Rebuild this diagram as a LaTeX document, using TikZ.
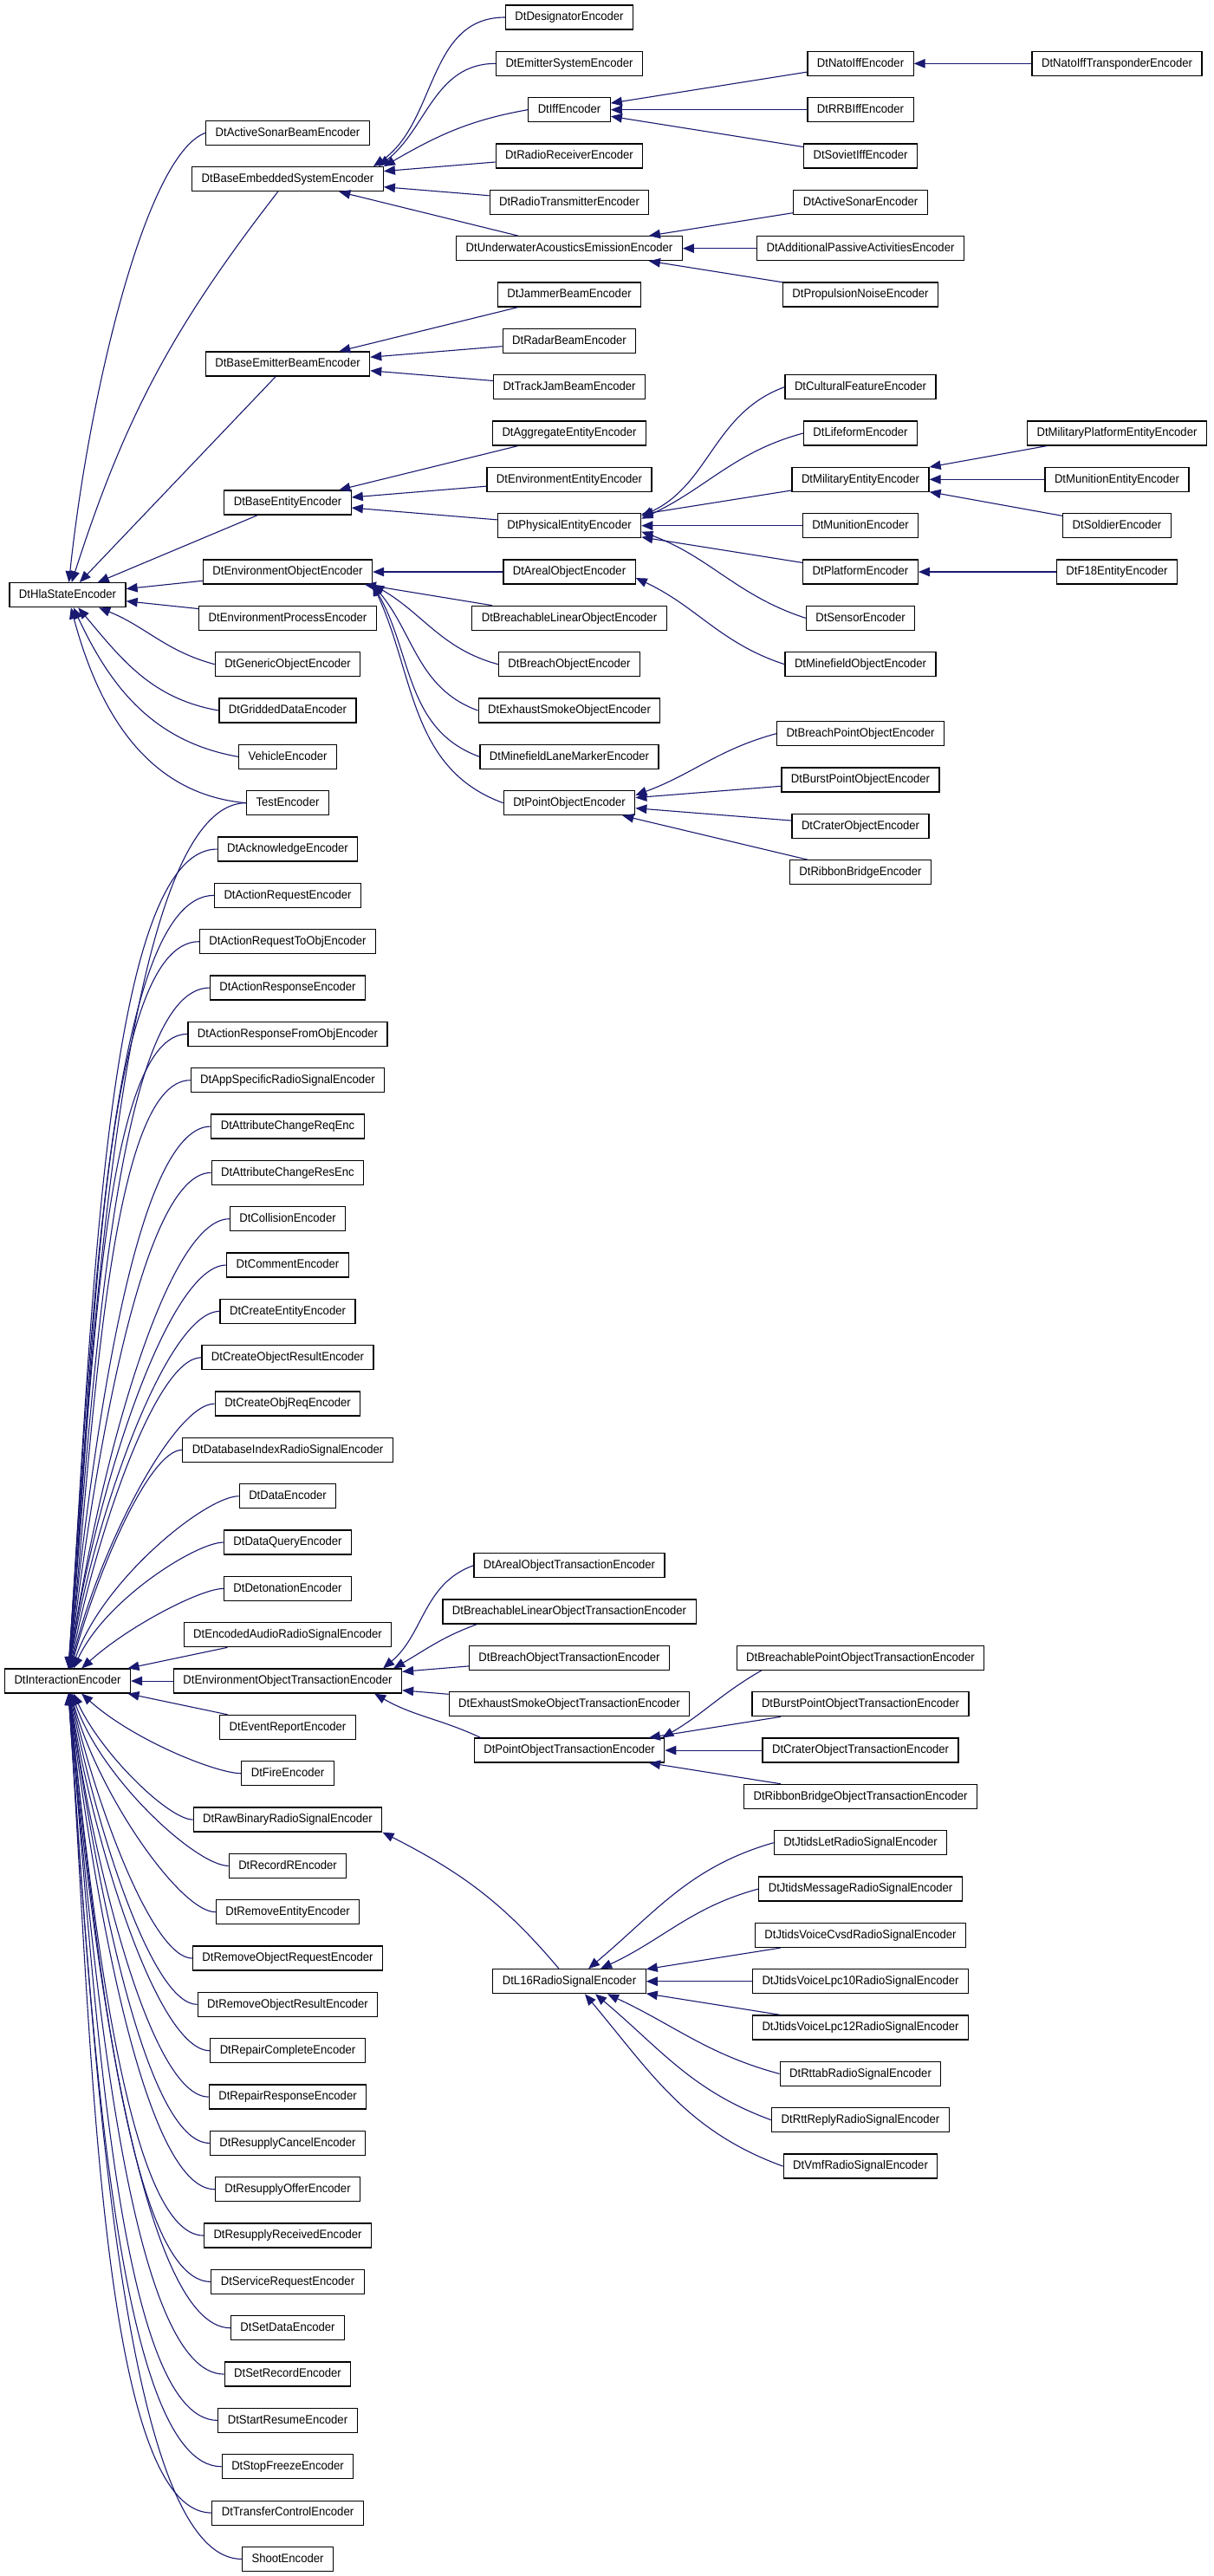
\documentclass[tikz,border=0pt]{standalone}
\usepackage{fontspec}
\setmainfont{Liberation Sans}[FakeStretch=0.935]
\usetikzlibrary{arrows.meta}
\definecolor{edgeblue}{RGB}{25,25,112}

\begin{document}
\begin{tikzpicture}[x=1pt, y=-26.6667pt,
  cls/.style={draw=black, line width=1.2pt, fill=white, minimum height=28pt,
    inner xsep=11pt, inner ysep=0pt, text height=10.5pt, text depth=3pt,
    font=\fontsize{14}{16}\selectfont},
  inh/.style={draw=edgeblue, line width=1.1pt, -{Triangle[length=13pt,width=10.5pt]}}]

\fill[white] (0,-0.75) rectangle (1400,110.735);
\useasboundingbox (0,-0.75) rectangle (1400,110.735);

% base classes
\node[cls] (hla) at (78,25) {DtHlaStateEncoder};
\node[cls] (ie) at (78,72) {DtInteractionEncoder};

% second column (state side)
\node[cls] (asb) at (332,5) {DtActiveSonarBeamEncoder};
\node[cls] (bes) at (332,7) {DtBaseEmbeddedSystemEncoder};
\node[cls] (beb) at (332,15) {DtBaseEmitterBeamEncoder};
\node[cls] (ben) at (332,21) {DtBaseEntityEncoder};
\node[cls] (eo) at (332,24) {DtEnvironmentObjectEncoder};
\node[cls] (ep) at (332,26) {DtEnvironmentProcessEncoder};
\node[cls] (gen) at (332,28) {DtGenericObjectEncoder};
\node[cls] (grid) at (332,30) {DtGriddedDataEncoder};
\node[cls] (veh) at (332,32) {VehicleEncoder};
\node[cls] (test) at (332,34) {TestEncoder};

% second column (interaction side)
\node[cls] (ack) at (332,36) {DtAcknowledgeEncoder};
\node[cls] (areq) at (332,38) {DtActionRequestEncoder};
\node[cls] (areqo) at (332,40) {DtActionRequestToObjEncoder};
\node[cls] (ares) at (332,42) {DtActionResponseEncoder};
\node[cls] (areso) at (332,44) {DtActionResponseFromObjEncoder};
\node[cls] (appsig) at (332,46) {DtAppSpecificRadioSignalEncoder};
\node[cls] (acreq) at (332,48) {DtAttributeChangeReqEnc};
\node[cls] (acres) at (332,50) {DtAttributeChangeResEnc};
\node[cls] (coll) at (332,52) {DtCollisionEncoder};
\node[cls] (comm) at (332,54) {DtCommentEncoder};
\node[cls] (cent) at (332,56) {DtCreateEntityEncoder};
\node[cls] (cores) at (332,58) {DtCreateObjectResultEncoder};
\node[cls] (coreq) at (332,60) {DtCreateObjReqEncoder};
\node[cls] (dbsig) at (332,62) {DtDatabaseIndexRadioSignalEncoder};
\node[cls] (data) at (332,64) {DtDataEncoder};
\node[cls] (dquery) at (332,66) {DtDataQueryEncoder};
\node[cls] (deto) at (332,68) {DtDetonationEncoder};
\node[cls] (audio) at (332,70) {DtEncodedAudioRadioSignalEncoder};
\node[cls] (eot) at (332,72) {DtEnvironmentObjectTransactionEncoder};
\node[cls] (event) at (332,74) {DtEventReportEncoder};
\node[cls] (fire) at (332,76) {DtFireEncoder};
\node[cls] (rawbin) at (332,78) {DtRawBinaryRadioSignalEncoder};
\node[cls] (recr) at (332,80) {DtRecordREncoder};
\node[cls] (rment) at (332,82) {DtRemoveEntityEncoder};
\node[cls] (rmreq) at (332,84) {DtRemoveObjectRequestEncoder};
\node[cls] (rmres) at (332,86) {DtRemoveObjectResultEncoder};
\node[cls] (repc) at (332,88) {DtRepairCompleteEncoder};
\node[cls] (repr) at (332,90) {DtRepairResponseEncoder};
\node[cls] (rscan) at (332,92) {DtResupplyCancelEncoder};
\node[cls] (rsoff) at (332,94) {DtResupplyOfferEncoder};
\node[cls] (rsrec) at (332,96) {DtResupplyReceivedEncoder};
\node[cls] (serv) at (332,98) {DtServiceRequestEncoder};
\node[cls] (setd) at (332,100) {DtSetDataEncoder};
\node[cls] (setr) at (332,102) {DtSetRecordEncoder};
\node[cls] (start) at (332,104) {DtStartResumeEncoder};
\node[cls] (stop) at (332,106) {DtStopFreezeEncoder};
\node[cls] (xfer) at (332,108) {DtTransferControlEncoder};
\node[cls] (shoot) at (332,110) {ShootEncoder};

% third column
\node[cls] (des) at (657,0) {DtDesignatorEncoder};
\node[cls] (emsys) at (657,2) {DtEmitterSystemEncoder};
\node[cls] (iff) at (657,4) {DtIffEncoder};
\node[cls] (rrecv) at (657,6) {DtRadioReceiverEncoder};
\node[cls] (rxmit) at (657,8) {DtRadioTransmitterEncoder};
\node[cls] (uae) at (657,10) {DtUnderwaterAcousticsEmissionEncoder};
\node[cls] (jam) at (657,12) {DtJammerBeamEncoder};
\node[cls] (radar) at (657,14) {DtRadarBeamEncoder};
\node[cls] (tjam) at (657,16) {DtTrackJamBeamEncoder};
\node[cls] (agg) at (657,18) {DtAggregateEntityEncoder};
\node[cls] (envent) at (657,20) {DtEnvironmentEntityEncoder};
\node[cls] (phys) at (657,22) {DtPhysicalEntityEncoder};
\node[cls] (areal) at (657,24) {DtArealObjectEncoder};
\node[cls] (brlin) at (657,26) {DtBreachableLinearObjectEncoder};
\node[cls] (breach) at (657,28) {DtBreachObjectEncoder};
\node[cls] (smoke) at (657,30) {DtExhaustSmokeObjectEncoder};
\node[cls] (lane) at (657,32) {DtMinefieldLaneMarkerEncoder};
\node[cls] (point) at (657,34) {DtPointObjectEncoder};
\node[cls] (arealt) at (657,67) {DtArealObjectTransactionEncoder};
\node[cls] (brlint) at (657,69) {DtBreachableLinearObjectTransactionEncoder};
\node[cls] (breacht) at (657,71) {DtBreachObjectTransactionEncoder};
\node[cls] (smoket) at (657,73) {DtExhaustSmokeObjectTransactionEncoder};
\node[cls] (pointt) at (657,75) {DtPointObjectTransactionEncoder};
\node[cls] (l16) at (657,85) {DtL16RadioSignalEncoder};

% fourth column
\node[cls] (nato) at (993,2) {DtNatoIffEncoder};
\node[cls] (rrb) at (993,4) {DtRRBIffEncoder};
\node[cls] (soviet) at (993,6) {DtSovietIffEncoder};
\node[cls] (asonar) at (993,8) {DtActiveSonarEncoder};
\node[cls] (passive) at (993,10) {DtAdditionalPassiveActivitiesEncoder};
\node[cls] (prop) at (993,12) {DtPropulsionNoiseEncoder};
\node[cls] (cult) at (993,16) {DtCulturalFeatureEncoder};
\node[cls] (life) at (993,18) {DtLifeformEncoder};
\node[cls] (mil) at (993,20) {DtMilitaryEntityEncoder};
\node[cls] (mun) at (993,22) {DtMunitionEncoder};
\node[cls] (plat) at (993,24) {DtPlatformEncoder};
\node[cls] (sens) at (993,26) {DtSensorEncoder};
\node[cls] (mine) at (993,28) {DtMinefieldObjectEncoder};
\node[cls] (bpt) at (993,31) {DtBreachPointObjectEncoder};
\node[cls] (burst) at (993,33) {DtBurstPointObjectEncoder};
\node[cls] (crater) at (993,35) {DtCraterObjectEncoder};
\node[cls] (ribbon) at (993,37) {DtRibbonBridgeEncoder};
\node[cls] (bpott) at (993,71) {DtBreachablePointObjectTransactionEncoder};
\node[cls] (burstt) at (993,73) {DtBurstPointObjectTransactionEncoder};
\node[cls] (cratert) at (993,75) {DtCraterObjectTransactionEncoder};
\node[cls] (ribbont) at (993,77) {DtRibbonBridgeObjectTransactionEncoder};
\node[cls] (jlet) at (993,79) {DtJtidsLetRadioSignalEncoder};
\node[cls] (jmsg) at (993,81) {DtJtidsMessageRadioSignalEncoder};
\node[cls] (cvsd) at (993,83) {DtJtidsVoiceCvsdRadioSignalEncoder};
\node[cls] (lpc10) at (993,85) {DtJtidsVoiceLpc10RadioSignalEncoder};
\node[cls] (lpc12) at (993,87) {DtJtidsVoiceLpc12RadioSignalEncoder};
\node[cls] (rttab) at (993,89) {DtRttabRadioSignalEncoder};
\node[cls] (rttrep) at (993,91) {DtRttReplyRadioSignalEncoder};
\node[cls] (vmf) at (993,93) {DtVmfRadioSignalEncoder};

% fifth column
\node[cls] (natot) at (1289,2) {DtNatoIffTransponderEncoder};
\node[cls] (milplat) at (1289,18) {DtMilitaryPlatformEntityEncoder};
\node[cls] (munent) at (1289,20) {DtMunitionEntityEncoder};
\node[cls] (soldier) at (1289,22) {DtSoldierEncoder};
\node[cls] (f18) at (1289,24) {DtF18EntityEncoder};

% edges to DtHlaStateEncoder
\draw[inh] (asb.west) to[out=200,in=84,out looseness=0.35] (hla);
\draw[inh] (bes) to[bend right=10] (hla);
\draw[inh] (beb) -- (hla);
\draw[inh] (ben) -- (hla);
\draw[inh] (eo) -- (hla);
\draw[inh] (ep) -- (hla);
\draw[inh] (gen.west) to[out=165,in=-22] (hla);
\draw[inh] (grid.west) to[out=170,in=-50] (hla);
\draw[inh] (veh.west) to[out=170,in=-65] (hla);
\draw[inh] (test.west) to[out=175,in=-75] (hla);

% edges to DtInteractionEncoder
\foreach \nd/\ang in {test/86,ack/86,areq/86,areqo/85,ares/85,areso/85,appsig/84,
    acreq/84,acres/83,coll/82,comm/82,cent/81,cores/79,coreq/77,dbsig/75,data/71,
    dquery/65,deto/42}
  \draw[inh] (\nd.west) to[out=180,in=\ang,out looseness=0.35] (ie);
\draw[inh] (audio) -- (ie);
\draw[inh] (eot) -- (ie);
\draw[inh] (event) -- (ie);
\foreach \nd/\ang in {fire/-42,rawbin/-65,recr/-71,rment/-75,rmreq/-77,rmres/-79,
    repc/-81,repr/-82,rscan/-82,rsoff/-83,rsrec/-84,serv/-84,setd/-85,setr/-85,
    start/-85,stop/-86,xfer/-86,shoot/-86}
  \draw[inh] (\nd.west) to[out=180,in=\ang,out looseness=0.35] (ie);

% embedded systems
\draw[inh] (des.west) to[out=180,in=35] ([xshift=-12pt]bes.north east);
\draw[inh] (emsys.west) to[out=180,in=38] ([xshift=-6pt]bes.north east);
\draw[inh] (iff.west) to[out=190,in=30] (bes.north east);
\draw[inh] (rrecv) -- (bes);
\draw[inh] (rxmit) -- (bes);
\draw[inh] (uae) -- (bes);
\draw[inh] (nato) -- (iff);
\draw[inh] (rrb) -- (iff);
\draw[inh] (soviet) -- (iff);
\draw[inh] (natot) -- (nato);
\draw[inh] (asonar) -- (uae);
\draw[inh] (passive) -- (uae);
\draw[inh] (prop) -- (uae);

% beams
\draw[inh] (jam) -- (beb);
\draw[inh] (radar) -- (beb);
\draw[inh] (tjam) -- (beb);

% entities
\draw[inh] (agg) -- (ben);
\draw[inh] (envent) -- (ben);
\draw[inh] (phys) -- (ben);
\draw[inh] (cult.west) to[out=200,in=25] ([yshift=11pt]phys.east);
\draw[inh] (life.west) to[out=195,in=25] ([yshift=8pt]phys.east);
\draw[inh] (mil) -- (phys);
\draw[inh] (mun) -- (phys);
\draw[inh] (plat) -- (phys);
\draw[inh] (sens.west) to[out=162,in=-20] ([yshift=-7pt]phys.east);
\draw[inh] (milplat) -- (mil);
\draw[inh] (munent) -- (mil);
\draw[inh] (soldier) -- (mil);
\draw[inh] (f18) -- (plat);

% environment objects
\draw[inh] (areal) -- (eo);
\draw[inh] (brlin) -- (eo);
\draw[inh] (breach.west) to[out=165,in=-30] (eo.south east);
\draw[inh] (smoke.west) to[out=160,in=-50] (eo.south east);
\draw[inh] (lane.west) to[out=160,in=-60] (eo.south east);
\draw[inh] (point.west) to[out=160,in=-65] (eo.south east);
\draw[inh] (mine.west) to[out=162,in=-25] ([yshift=-7pt]areal.east);
\draw[inh] (bpt.west) to[out=195,in=20] ([yshift=9pt]point.east);
\draw[inh] (burst) -- (point);
\draw[inh] (crater) -- (point);
\draw[inh] (ribbon) -- (point);

% object transactions
\draw[inh] (arealt.west) to[out=200,in=40] ([xshift=-22pt]eot.north east);
\draw[inh] ([xshift=40pt]brlint.south west) to[out=200,in=30] ([xshift=-10pt]eot.north east);
\draw[inh] (breacht) -- (eot);
\draw[inh] (smoket) -- (eot);
\draw[inh] ([xshift=8pt]pointt.north west) to[out=155,in=-30] ([xshift=-32pt]eot.south east);
\draw[inh] ([xshift=29pt]bpott.south west) to[out=210,in=30] ([xshift=-3pt]pointt.north east);
\draw[inh] (burstt) -- (pointt);
\draw[inh] (cratert) -- (pointt);
\draw[inh] (ribbont) -- (pointt);

% radio signals
\draw[inh] ([xshift=-12pt]l16.north) to[out=130,in=-27] (rawbin.south east);
\draw[inh] (jlet.west) to[out=196,in=40] ([xshift=22pt]l16.north);
\draw[inh] (jmsg.west) to[out=195,in=25] ([xshift=36pt]l16.north);
\draw[inh] (cvsd) -- (l16);
\draw[inh] (lpc10) -- (l16);
\draw[inh] (lpc12) -- (l16);
\draw[inh] (rttab.west) to[out=165,in=-25] ([xshift=44pt]l16.south);
\draw[inh] (rttrep.west) to[out=160,in=-40] ([xshift=30pt]l16.south);
\draw[inh] (vmf.west) to[out=160,in=-50] ([xshift=18pt]l16.south);

\end{tikzpicture}
\end{document}
